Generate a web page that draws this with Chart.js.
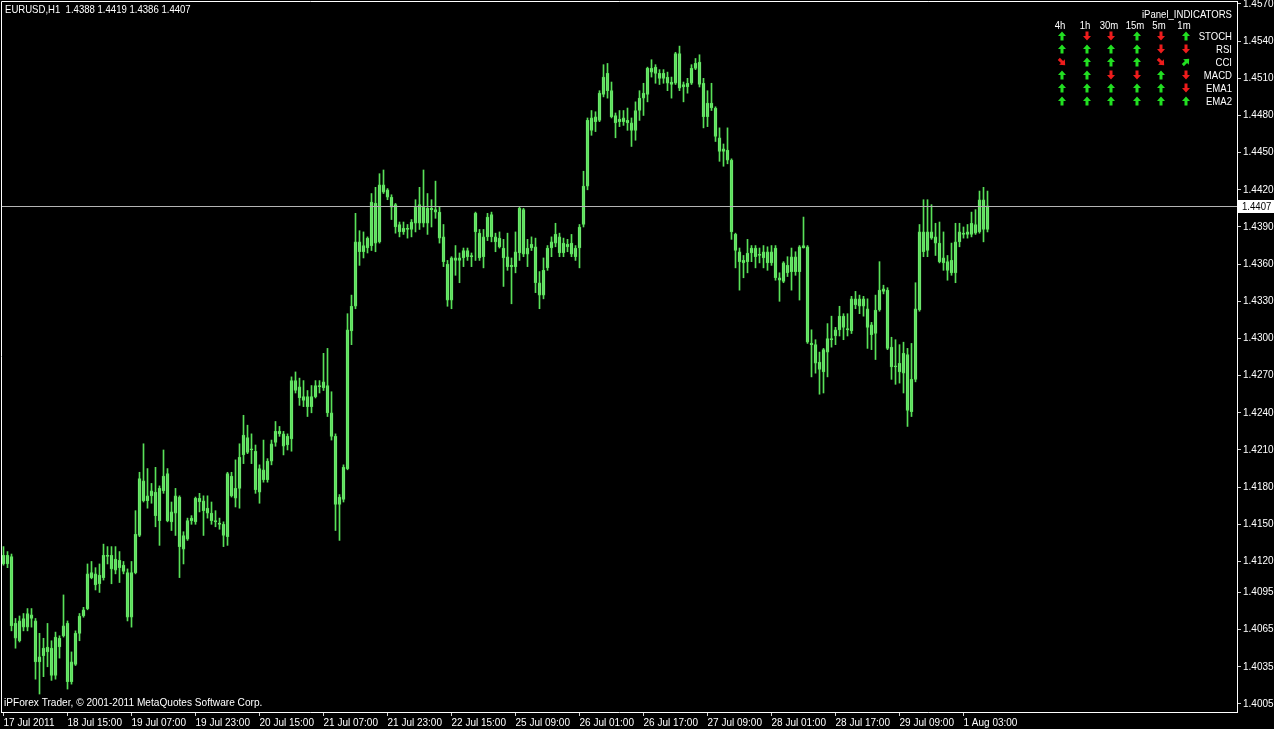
<!DOCTYPE html>
<html>
<head>
<meta charset="utf-8">
<title>EURUSD,H1</title>
<script src="https://cdn.jsdelivr.net/npm/chart.js@4.4.0/dist/chart.umd.min.js"></script>
<style>
  html, body { margin: 0; padding: 0; background: #000; overflow: hidden; }
  #wrap { width: 1274px; height: 729px; }
</style>
</head>
<body>
<div id="wrap"><canvas id="priceChart" width="1274" height="729"></canvas></div>
<script>
'use strict';

// hourly candles, EURUSD H1, 17 Jul 2011 23:00 onwards
const openPrices = [
  1.4118, 1.4125, 1.4124, 1.4070, 1.4056, 1.4074, 1.4067, 1.4077, 1.4072, 1.4039,
  1.4044, 1.4051, 1.4050, 1.4028, 1.4058, 1.4060, 1.4070, 1.4023, 1.4037, 1.4062,
  1.4076, 1.4082, 1.4111, 1.4110, 1.4102, 1.4107, 1.4125, 1.4125, 1.4113, 1.4121,
  1.4117, 1.4111, 1.4075, 1.4111, 1.4141, 1.4185, 1.4169, 1.4173, 1.4176, 1.4153,
  1.4177, 1.4191, 1.4152, 1.4159, 1.4172, 1.4130, 1.4138, 1.4153, 1.4152, 1.4171,
  1.4169, 1.4163, 1.4159, 1.4153, 1.4151, 1.4150, 1.4140, 1.4189, 1.4171, 1.4179,
  1.4206, 1.4220, 1.4210, 1.4209, 1.4176, 1.4194, 1.4186, 1.4201, 1.4216, 1.4225,
  1.4223, 1.4214, 1.4219, 1.4266, 1.4261, 1.4253, 1.4253, 1.4245, 1.4253, 1.4262,
  1.4260, 1.4262, 1.4240, 1.4221, 1.4166, 1.4170, 1.4195, 1.4306, 1.4326, 1.4378,
  1.4370, 1.4373, 1.4375, 1.4409, 1.4378, 1.4424, 1.4420, 1.4414, 1.4408, 1.4392,
  1.4386, 1.4389, 1.4388, 1.4393, 1.4408, 1.4393, 1.4405, 1.4404, 1.4404, 1.4402,
  1.4382, 1.4360, 1.4331, 1.4365, 1.4363, 1.4365, 1.4371, 1.4366, 1.4386, 1.4385,
  1.4366, 1.4382, 1.4400, 1.4382, 1.4381, 1.4373, 1.4366, 1.4359, 1.4358, 1.4369,
  1.4404, 1.4368, 1.4373, 1.4374, 1.4345, 1.4335, 1.4357, 1.4373, 1.4377, 1.4382,
  1.4369, 1.4376, 1.4377, 1.4366, 1.4373, 1.4392, 1.4423, 1.4478, 1.4475, 1.4476,
  1.4497, 1.4514, 1.4500, 1.4480, 1.4475, 1.4478, 1.4476, 1.4474, 1.4468, 1.4484,
  1.4494, 1.4497, 1.4518, 1.4514, 1.4514, 1.4510, 1.4511, 1.4507, 1.4506, 1.4530,
  1.4503, 1.4506, 1.4506, 1.4518, 1.4523, 1.4506, 1.4479, 1.4490, 1.4486, 1.4462,
  1.4451, 1.4452, 1.4444, 1.4384, 1.4370, 1.4363, 1.4362, 1.4369, 1.4373, 1.4367,
  1.4370, 1.4361, 1.4370, 1.4373, 1.4349, 1.4346, 1.4359, 1.4354, 1.4366, 1.4354,
  1.4373, 1.4374, 1.4296, 1.4295, 1.4281, 1.4273, 1.4289, 1.4300, 1.4302, 1.4307,
  1.4318, 1.4308, 1.4306, 1.4332, 1.4326, 1.4332, 1.4324, 1.4311, 1.4304, 1.4323,
  1.4338, 1.4339, 1.4293, 1.4277, 1.4280, 1.4272, 1.4287, 1.4241, 1.4267, 1.4323,
  1.4386, 1.4371, 1.4386, 1.4382, 1.4377, 1.4361, 1.4362, 1.4353, 1.4353, 1.4378,
  1.4385, 1.4384, 1.4384, 1.4392, 1.4386, 1.4412, 1.4388
];
const highPrices = [
  1.4132, 1.4128, 1.4126, 1.4074, 1.4076, 1.4078, 1.4082, 1.4082, 1.4074, 1.4062,
  1.4058, 1.4070, 1.4056, 1.4063, 1.4060, 1.4093, 1.4072, 1.4047, 1.4064, 1.4078,
  1.4083, 1.4118, 1.4120, 1.4115, 1.4118, 1.4134, 1.4132, 1.4132, 1.4132, 1.4128,
  1.4120, 1.4114, 1.4120, 1.4161, 1.4192, 1.4215, 1.4195, 1.4183, 1.4196, 1.4181,
  1.4210, 1.4195, 1.4168, 1.4179, 1.4173, 1.4144, 1.4155, 1.4157, 1.4172, 1.4175,
  1.4173, 1.4173, 1.4168, 1.4161, 1.4155, 1.4152, 1.4192, 1.4192, 1.4202, 1.4215,
  1.4238, 1.4230, 1.4223, 1.4214, 1.4198, 1.4218, 1.4203, 1.4218, 1.4233, 1.4229,
  1.4225, 1.4223, 1.4269, 1.4273, 1.4268, 1.4266, 1.4258, 1.4262, 1.4266, 1.4266,
  1.4288, 1.4292, 1.4257, 1.4223, 1.4174, 1.4198, 1.4320, 1.4335, 1.4401, 1.4387,
  1.4386, 1.4382, 1.4417, 1.4422, 1.4433, 1.4436, 1.4421, 1.4416, 1.4409, 1.4394,
  1.4394, 1.4392, 1.4396, 1.4412, 1.4422, 1.4436, 1.4417, 1.4412, 1.4427, 1.4406,
  1.4392, 1.4363, 1.4366, 1.4375, 1.4369, 1.4373, 1.4373, 1.4369, 1.4402, 1.4388,
  1.4388, 1.4401, 1.4402, 1.4385, 1.4386, 1.4380, 1.4385, 1.4365, 1.4386, 1.4406,
  1.4405, 1.4380, 1.4382, 1.4381, 1.4354, 1.4365, 1.4375, 1.4382, 1.4393, 1.4385,
  1.4381, 1.4380, 1.4384, 1.4375, 1.4392, 1.4435, 1.4478, 1.4484, 1.4483, 1.4500,
  1.4521, 1.4522, 1.4507, 1.4482, 1.4484, 1.4484, 1.4486, 1.4478, 1.4491, 1.4500,
  1.4506, 1.4519, 1.4525, 1.4521, 1.4517, 1.4517, 1.4515, 1.4511, 1.4531, 1.4536,
  1.4507, 1.4510, 1.4521, 1.4526, 1.4529, 1.4510, 1.4500, 1.4506, 1.4487, 1.4470,
  1.4457, 1.4470, 1.4445, 1.4385, 1.4373, 1.4367, 1.4380, 1.4375, 1.4375, 1.4373,
  1.4375, 1.4374, 1.4375, 1.4375, 1.4353, 1.4362, 1.4366, 1.4373, 1.4370, 1.4375,
  1.4398, 1.4375, 1.4307, 1.4299, 1.4289, 1.4292, 1.4312, 1.4318, 1.4309, 1.4326,
  1.4320, 1.4320, 1.4334, 1.4338, 1.4335, 1.4334, 1.4332, 1.4313, 1.4335, 1.4362,
  1.4343, 1.4341, 1.4301, 1.4299, 1.4295, 1.4297, 1.4292, 1.4296, 1.4345, 1.4392,
  1.4412, 1.4412, 1.4408, 1.4393, 1.4394, 1.4386, 1.4367, 1.4377, 1.4393, 1.4393,
  1.4390, 1.4392, 1.4402, 1.4404, 1.4419, 1.4422, 1.4419
];
const lowPrices = [
  1.4117, 1.4115, 1.4064, 1.4050, 1.4055, 1.4064, 1.4064, 1.4067, 1.4025, 1.4013,
  1.4027, 1.4035, 1.4024, 1.4025, 1.4042, 1.4059, 1.4017, 1.4021, 1.4036, 1.4056,
  1.4075, 1.4081, 1.4106, 1.4097, 1.4095, 1.4105, 1.4118, 1.4102, 1.4110, 1.4103,
  1.4110, 1.4072, 1.4067, 1.4110, 1.4140, 1.4168, 1.4163, 1.4167, 1.4148, 1.4133,
  1.4175, 1.4152, 1.4145, 1.4141, 1.4107, 1.4118, 1.4137, 1.4150, 1.4150, 1.4160,
  1.4141, 1.4155, 1.4150, 1.4148, 1.4146, 1.4132, 1.4133, 1.4172, 1.4164, 1.4163,
  1.4199, 1.4207, 1.4199, 1.4175, 1.4167, 1.4184, 1.4184, 1.4198, 1.4213, 1.4221,
  1.4206, 1.4210, 1.4209, 1.4256, 1.4246, 1.4245, 1.4237, 1.4240, 1.4252, 1.4256,
  1.4258, 1.4237, 1.4218, 1.4145, 1.4137, 1.4168, 1.4194, 1.4295, 1.4324, 1.4359,
  1.4365, 1.4369, 1.4371, 1.4370, 1.4377, 1.4417, 1.4412, 1.4396, 1.4385, 1.4382,
  1.4384, 1.4381, 1.4382, 1.4386, 1.4388, 1.4390, 1.4384, 1.4390, 1.4397, 1.4377,
  1.4358, 1.4326, 1.4324, 1.4351, 1.4345, 1.4358, 1.4363, 1.4358, 1.4363, 1.4363,
  1.4357, 1.4379, 1.4378, 1.4370, 1.4373, 1.4342, 1.4355, 1.4328, 1.4353, 1.4363,
  1.4366, 1.4358, 1.4371, 1.4337, 1.4324, 1.4332, 1.4355, 1.4366, 1.4374, 1.4366,
  1.4366, 1.4370, 1.4366, 1.4363, 1.4357, 1.4390, 1.4420, 1.4464, 1.4467, 1.4475,
  1.4495, 1.4494, 1.4478, 1.4462, 1.4471, 1.4472, 1.4468, 1.4455, 1.4460, 1.4476,
  1.4480, 1.4491, 1.4511, 1.4506, 1.4505, 1.4506, 1.4500, 1.4494, 1.4505, 1.4500,
  1.4491, 1.4498, 1.4505, 1.4517, 1.4503, 1.4470, 1.4471, 1.4484, 1.4459, 1.4443,
  1.4439, 1.4441, 1.4380, 1.4357, 1.4339, 1.4349, 1.4353, 1.4362, 1.4357, 1.4361,
  1.4357, 1.4355, 1.4359, 1.4347, 1.4330, 1.4345, 1.4350, 1.4339, 1.4351, 1.4331,
  1.4373, 1.4296, 1.4269, 1.4272, 1.4255, 1.4256, 1.4269, 1.4293, 1.4295, 1.4302,
  1.4299, 1.4302, 1.4304, 1.4324, 1.4320, 1.4318, 1.4292, 1.4291, 1.4283, 1.4322,
  1.4336, 1.4291, 1.4267, 1.4263, 1.4264, 1.4256, 1.4229, 1.4237, 1.4265, 1.4322,
  1.4366, 1.4366, 1.4380, 1.4367, 1.4361, 1.4355, 1.4347, 1.4351, 1.4345, 1.4374,
  1.4381, 1.4381, 1.4382, 1.4384, 1.4385, 1.4378, 1.4386
];
const closePrices = [
  1.4125, 1.4118, 1.4068, 1.4058, 1.4072, 1.4067, 1.4078, 1.4074, 1.4039, 1.4043,
  1.4050, 1.4047, 1.4028, 1.4059, 1.4051, 1.4068, 1.4023, 1.4039, 1.4062, 1.4076,
  1.4081, 1.4110, 1.4107, 1.4101, 1.4109, 1.4125, 1.4124, 1.4114, 1.4122, 1.4115,
  1.4112, 1.4075, 1.4111, 1.4142, 1.4187, 1.4169, 1.4173, 1.4177, 1.4157, 1.4179,
  1.4189, 1.4153, 1.4160, 1.4173, 1.4132, 1.4141, 1.4153, 1.4155, 1.4171, 1.4168,
  1.4161, 1.4159, 1.4153, 1.4152, 1.4150, 1.4141, 1.4191, 1.4173, 1.4179, 1.4204,
  1.4222, 1.4208, 1.4211, 1.4178, 1.4195, 1.4186, 1.4201, 1.4215, 1.4225, 1.4223,
  1.4213, 1.4221, 1.4266, 1.4258, 1.4252, 1.4250, 1.4245, 1.4253, 1.4262, 1.4261,
  1.4265, 1.4240, 1.4221, 1.4166, 1.4172, 1.4196, 1.4307, 1.4326, 1.4378, 1.4370,
  1.4375, 1.4381, 1.4410, 1.4377, 1.4424, 1.4418, 1.4414, 1.4406, 1.4390, 1.4386,
  1.4389, 1.4388, 1.4394, 1.4406, 1.4393, 1.4406, 1.4393, 1.4405, 1.4402, 1.4381,
  1.4362, 1.4331, 1.4365, 1.4363, 1.4365, 1.4371, 1.4366, 1.4367, 1.4401, 1.4365,
  1.4382, 1.4398, 1.4382, 1.4378, 1.4374, 1.4365, 1.4358, 1.4358, 1.4370, 1.4405,
  1.4368, 1.4373, 1.4376, 1.4345, 1.4335, 1.4355, 1.4373, 1.4378, 1.4384, 1.4369,
  1.4377, 1.4374, 1.4368, 1.4373, 1.4390, 1.4423, 1.4476, 1.4468, 1.4479, 1.4498,
  1.4511, 1.4500, 1.4479, 1.4474, 1.4477, 1.4475, 1.4474, 1.4468, 1.4484, 1.4494,
  1.4498, 1.4518, 1.4515, 1.4519, 1.4510, 1.4514, 1.4506, 1.4505, 1.4530, 1.4502,
  1.4505, 1.4503, 1.4518, 1.4522, 1.4505, 1.4479, 1.4490, 1.4486, 1.4463, 1.4451,
  1.4453, 1.4444, 1.4386, 1.4371, 1.4362, 1.4361, 1.4369, 1.4373, 1.4366, 1.4368,
  1.4365, 1.4370, 1.4361, 1.4349, 1.4347, 1.4361, 1.4353, 1.4366, 1.4354, 1.4374,
  1.4375, 1.4297, 1.4295, 1.4280, 1.4275, 1.4291, 1.4300, 1.4299, 1.4307, 1.4318,
  1.4309, 1.4307, 1.4332, 1.4327, 1.4332, 1.4326, 1.4309, 1.4303, 1.4323, 1.4339,
  1.4340, 1.4292, 1.4277, 1.4278, 1.4273, 1.4288, 1.4242, 1.4267, 1.4324, 1.4386,
  1.4370, 1.4386, 1.4381, 1.4377, 1.4362, 1.4365, 1.4355, 1.4363, 1.4378, 1.4386,
  1.4384, 1.4386, 1.4393, 1.4385, 1.4412, 1.4388, 1.4407
];

// one time label every 16 bars
const timeLabels = [
  '17 Jul 2011', '18 Jul 15:00', '19 Jul 07:00', '19 Jul 23:00', '20 Jul 15:00',
  '21 Jul 07:00', '21 Jul 23:00', '22 Jul 15:00', '25 Jul 09:00', '26 Jul 01:00',
  '26 Jul 17:00', '27 Jul 09:00', '28 Jul 01:00', '28 Jul 17:00', '29 Jul 09:00',
  '1 Aug 03:00'
];
const labelStep = 16;

const priceTicks = [
  1.4570, 1.4540, 1.4510, 1.4480, 1.4450, 1.4420, 1.4390, 1.4360, 1.4330, 1.4300,
  1.4270, 1.4240, 1.4210, 1.4180, 1.4150, 1.4120, 1.4095, 1.4065, 1.4035, 1.4005
];
const bidPrice = 1.4407;
const symbolTitle = 'EURUSD,H1';

// iPanel_INDICATORS grid: U up, D down, DR down-right, UR up-right
const panelCols = ['4h', '1h', '30m', '15m', '5m', '1m'];
const panelRows = ['STOCH', 'RSI', 'CCI', 'MACD', 'EMA1', 'EMA2'];
const stochSignals = ['U', 'D', 'D', 'U', 'D', 'U'];
const rsiSignals = ['U', 'U', 'U', 'U', 'D', 'D'];
const cciSignals = ['DR', 'U', 'U', 'U', 'DR', 'UR'];
const macdSignals = ['U', 'U', 'D', 'D', 'U', 'D'];
const ema1Signals = ['U', 'U', 'U', 'U', 'U', 'D'];
const ema2Signals = ['U', 'U', 'U', 'U', 'U', 'U'];
const panelSignals = [stochSignals, rsiSignals, cciSignals, macdSignals, ema1Signals, ema2Signals];

const FONT = '"Liberation Sans", Arial, sans-serif';
const TEXT_SX = 0.87;   // terminal font is narrower than Arial
const CANDLE_LINE = 'rgb(88, 224, 88)';
const CANDLE_FILL = 'rgb(186, 245, 186)';

let wickData = lowPrices.map((low, i) => ({ x: i, y: [low, highPrices[i]] }));
let bodyData = openPrices.map((open, i) => ({ x: i, y: [open, closePrices[i]] }));

function narrowText(ctx, text, x, y, align, sx) {
  ctx.save();
  ctx.translate(x, y);
  ctx.scale(sx || TEXT_SX, 1);
  ctx.textAlign = align || 'left';
  ctx.fillText(text, 0, 0);
  ctx.restore();
}

function drawArrow(ctx, cx, cy, sig) {
  let angle = { U: 0, D: Math.PI, DR: Math.PI * 0.75, UR: Math.PI * 0.25 }[sig];
  ctx.save();
  ctx.translate(cx, cy);
  ctx.rotate(angle);
  ctx.fillStyle = (sig === 'U' || sig === 'UR') ? '#22e022' : '#ee1c1c';
  ctx.beginPath();
  ctx.moveTo(0, -4.5);
  ctx.lineTo(4, 0);
  ctx.lineTo(1.5, 0);
  ctx.lineTo(1.5, 4.5);
  ctx.lineTo(-1.5, 4.5);
  ctx.lineTo(-1.5, 0);
  ctx.lineTo(-4, 0);
  ctx.closePath();
  ctx.fill();
  ctx.restore();
}

let overlay = {
  id: 'overlay',
  afterDatasetsDraw(chart) {
    let ctx = chart.ctx;
    let area = chart.chartArea;
    let bidY = Math.round(chart.scales.y.getPixelForValue(bidPrice)) + 0.5;
    ctx.save();
    ctx.strokeStyle = '#b4b4b4';
    ctx.lineWidth = 1;
    ctx.beginPath();
    ctx.moveTo(area.left, bidY);
    ctx.lineTo(area.right, bidY);
    ctx.stroke();
    ctx.restore();
  },
  afterDraw(chart) {
    let ctx = chart.ctx;
    let area = chart.chartArea;
    ctx.save();

    // frame top and left (the axes draw the other two sides)
    ctx.strokeStyle = '#fff';
    ctx.lineWidth = 1;
    ctx.beginPath();
    ctx.moveTo(area.left + 0.5, area.bottom);
    ctx.lineTo(area.left + 0.5, area.top + 0.5);
    ctx.lineTo(area.right, area.top + 0.5);
    ctx.stroke();

    ctx.font = '11px ' + FONT;
    ctx.textBaseline = 'middle';

    // bid price label
    let bidY = Math.round(chart.scales.y.getPixelForValue(bidPrice));
    ctx.fillStyle = '#fff';
    ctx.fillRect(area.right + 1, bidY - 6, 36, 13);
    ctx.fillStyle = '#000';
    narrowText(ctx, bidPrice.toFixed(4), area.right + 5, bidY + 1);

    // header and copyright
    ctx.fillStyle = '#fff';
    let last = openPrices.length - 1;
    let ohlc = [openPrices[last], highPrices[last], lowPrices[last], closePrices[last]];
    narrowText(ctx, symbolTitle + '  ' + ohlc.map(v => v.toFixed(4)).join(' '), 5, 10);
    narrowText(ctx, 'iPForex Trader, \u00a9 2001-2011 MetaQuotes Software Corp.', 4, 703, 'left', 0.92);

    // indicator panel
    narrowText(ctx, 'iPanel_INDICATORS', 1232, 15, 'right');
    let colX = [1062, 1087, 1111, 1137, 1161, 1186];
    panelCols.forEach((c, i) => narrowText(ctx, c, colX[i] - 2, 26, 'center'));
    panelRows.forEach((name, r) => {
      let rowY = 36 + r * 13;
      ctx.fillStyle = '#fff';
      narrowText(ctx, name, 1232, rowY + 1, 'right');
      panelSignals[r].forEach((sig, c) => drawArrow(ctx, colX[c], rowY, sig));
    });
    ctx.restore();
  }
};

let ctx = document.getElementById('priceChart');
let chartOptions = {
  type: 'bar',
  data: {
    datasets: [{
      label: 'wicks',
      data: wickData,
      backgroundColor: CANDLE_LINE,
      borderWidth: 0,
      barThickness: 1,
    }, {
      label: 'bodies',
      data: bodyData,
      backgroundColor: CANDLE_FILL,
      borderColor: CANDLE_LINE,
      borderWidth: 1,
      borderSkipped: false,
      barThickness: 3,
      minBarLength: 1,
    }],
  },
  options: {
    responsive: false,
    animation: false,
    events: [],
    layout: { padding: { left: 1, top: 1, right: 0, bottom: 0 } },
    datasets: { bar: { grouped: false } },
    plugins: { legend: { display: false }, tooltip: { enabled: false } },
    scales: {
      x: {
        type: 'linear',
        offset: false,
        min: -0.625,
        max: 308.375,
        border: { display: true, color: '#fff' },
        grid: { drawOnChartArea: false, drawTicks: true, tickLength: 4, color: '#d0d0d0', offset: false },
        ticks: {
          color: '#fff',
          font: { family: FONT, size: 10 },
          align: 'start',
          padding: 1,
          maxRotation: 0,
          autoSkip: false,
          callback: (value, index) => timeLabels[index],
        },
        afterBuildTicks: (scale) => {
          scale.ticks = timeLabels.map((t, i) => ({ value: i * labelStep }));
        },
        afterFit: (scale) => {
          scale.height = 17;
          scale.paddingLeft = 0;
          scale.paddingRight = 0;
        },
      },
      y: {
        position: 'right',
        beginAtZero: false,
        min: 1.39985,
        max: 1.45724,
        border: { display: true, color: '#fff' },
        grid: { drawOnChartArea: false, drawTicks: true, tickLength: 4, color: '#d0d0d0' },
        ticks: {
          color: '#fff',
          font: { family: FONT, size: 10 },
          padding: 2,
          autoSkip: false,
          callback: (value) => Number(value).toFixed(4),
        },
        afterBuildTicks: (scale) => {
          scale.ticks = priceTicks.map(v => ({ value: v }));
        },
        afterFit: (scale) => {
          scale.width = 37;
          scale.paddingTop = 0;
          scale.paddingBottom = 0;
        },
      },
    },
  },
  plugins: [overlay],
};
let priceChart = new Chart(ctx, chartOptions);
</script>
</body>
</html>
